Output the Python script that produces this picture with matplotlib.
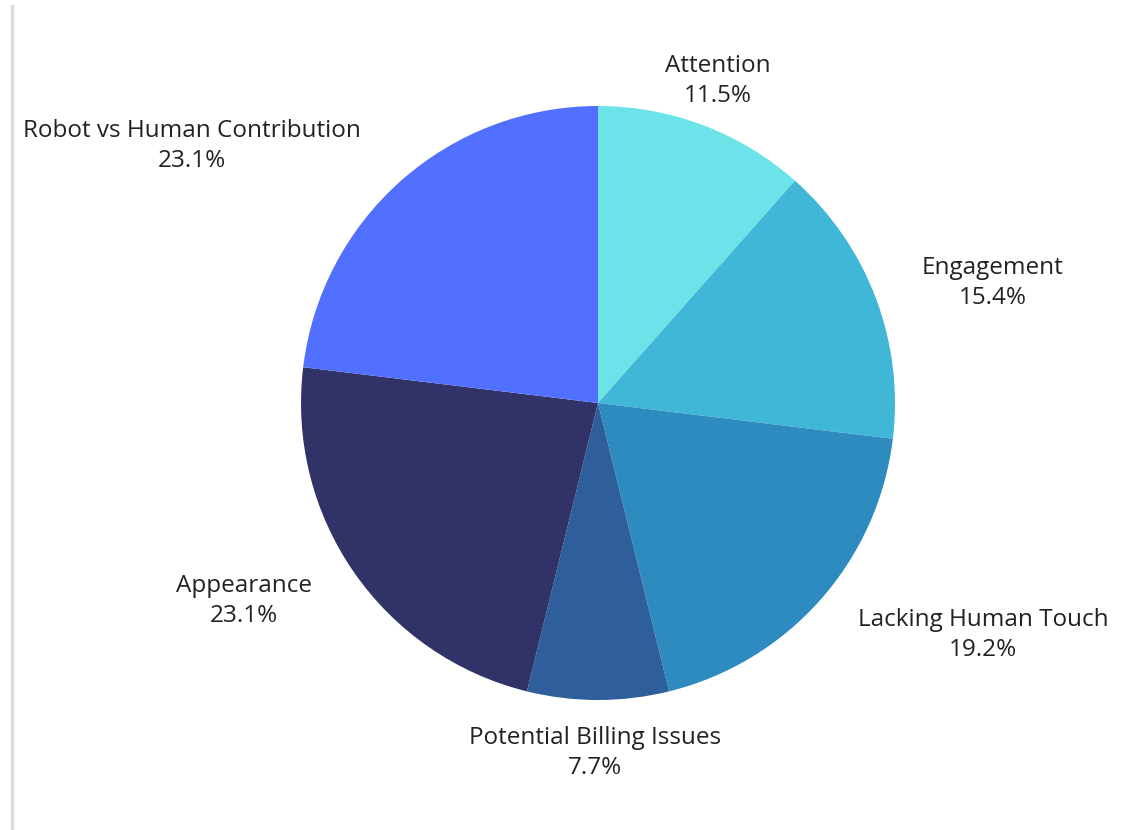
import matplotlib.pyplot as plt
from matplotlib.lines import Line2D

# Survey responses per concern
categories = ['Attention', 'Engagement', 'Lacking Human Touch',
              'Potential Billing Issues', 'Appearance',
              'Robot vs Human Contribution']
counts = [3, 4, 5, 2, 6, 6]
colors = ['#6BE3E8', '#40B7D7', '#2E8BC0', '#2E5F9A', '#313268', '#5170FF']

# label centres in pixel coordinates (x, y from top)
label_pos = [(718, 81), (993, 283), (983, 635),
             (595, 753), (244, 601), (192, 146)]

plt.rcParams['font.family'] = ['Open Sans', 'DejaVu Sans']

W, H = 1122, 830
fig = plt.figure(figsize=(W / 100, H / 100), dpi=100)
ax = fig.add_axes([0, 0, 1, 1])
ax.set_xlim(0, W)
ax.set_ylim(0, H)

ax.pie(counts, colors=colors, startangle=90, counterclock=False,
       center=(598, H - 403), radius=297, frame=True,
       wedgeprops=dict(linewidth=0))
ax.axis('off')

total = sum(counts)
for name, c, (x, y) in zip(categories, counts, label_pos):
    pct = 100 * c / total
    ax.text(x, H - y, f'{name}\n{pct:.1f}%', ha='center', va='center',
            fontsize=17.5, color='#222222', linespacing=1.3)

# thin border on the left
fig.add_artist(Line2D([12 / W, 12 / W], [0, 1 - 6 / H],
                      color='#dcdcdc', linewidth=2.5))

fig.savefig('out.png', dpi=100, facecolor='white')
